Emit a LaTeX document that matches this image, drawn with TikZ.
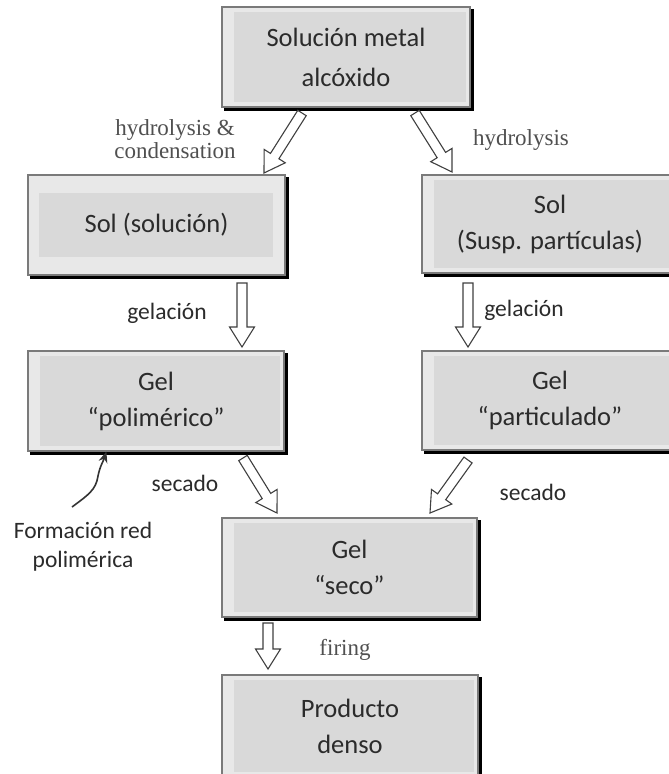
\documentclass[tikz,border=0pt]{standalone}
\usepackage{fontspec}
\setmainfont{Carlito}
\newfontfamily\printfont{Liberation Serif}
\usetikzlibrary{calc, arrows.meta}

\definecolor{boxband}{HTML}{E8E8E8}
\definecolor{boxfill}{HTML}{D9D9D9}
\definecolor{boxedge}{HTML}{7A7A7A}
\definecolor{inkgray}{HTML}{2B2B2B}
\definecolor{printgray}{HTML}{505050}

\tikzset{
  procbox/.style={rectangle, draw=boxedge, line width=1.2pt, fill=boxband,
    minimum width=256pt, minimum height=100pt, inner sep=0pt, align=center,
    text=inkgray, font=\fontsize{26.5}{36}\selectfont,
    path picture={\fill[boxfill] ([shift={(12pt,-5pt)}]path picture bounding box.north west)
      rectangle ([shift={(-4pt,5pt)}]path picture bounding box.south east);}},
  solbox/.style={path picture={\fill[boxfill] ([shift={(11pt,-18pt)}]path picture bounding box.north west)
      rectangle ([shift={(-12pt,18pt)}]path picture bounding box.south east);}},
  shadowline/.style={line width=2.6pt, black},
  hollow/.style={draw=black!75, line width=1.1pt, fill=white, line join=miter},
  lbl/.style={text=inkgray, font=\fontsize{23.5}{29}\selectfont, inner sep=0pt},
  printlbl/.style={text=printgray, font=\printfont\fontsize{23}{23}\selectfont, inner sep=0pt, align=center},
  curly/.style={line width=1.6pt, black!80, -{Stealth[length=11pt,width=9pt]}}
}

% block arrow with an open outline, from #1 to #2
\newcommand{\hollowarrow}[2]{%
  \coordinate (hb) at ($(#2)!20pt!(#1)$);
  \draw[hollow] ($(#1)!5pt!90:(#2)$) -- ($(hb)!5pt!90:(#2)$) -- ($(hb)!12.5pt!90:(#2)$) -- (#2)
    -- ($(hb)!12.5pt!-90:(#2)$) -- ($(hb)!5pt!-90:(#2)$) -- ($(#1)!5pt!-90:(#2)$) -- cycle;}

\begin{document}
\begin{tikzpicture}[x=1pt, y=-1pt]
  \useasboundingbox (0,0) rectangle (669,774);
  \fill[white] (0,0) rectangle (669,774);

  % process boxes
  \node[procbox, minimum width=248pt, font=\fontsize{26.5}{40}\selectfont] (metal) at (346,57) {Solución metal\\alcóxido};
  \node[procbox, solbox, minimum width=257pt] (soll) at (156.5,225) {Sol (solución)};
  \node[procbox, minimum height=98pt] (solr) at (550,224) {Sol\\(Susp. partículas)};
  \node[procbox] (gell) at (156,401) {Gel\\“polimérico”};
  \node[procbox, minimum height=99pt] (gelr) at (550,400.5) {Gel\\“particulado”};
  \node[procbox, minimum width=255pt, minimum height=99pt] (seco) at (349.5,567.5) {Gel\\“seco”};
  \node[procbox, minimum height=102pt] (prod) at (350,726) {Producto\\denso};

  % dark edge below and right of each box
  \foreach \b in {metal,soll,solr,gell,gelr,seco,prod}
    \draw[shadowline] ([shift={(3pt,-1.9pt)}]\b.south west) -- ([shift={(1.9pt,-1.9pt)}]\b.south east)
      -- ([shift={(1.9pt,-3pt)}]\b.north east);

  % arrow ends
  \coordinate (hydl) at (302,113);  \coordinate (hydlend) at (264,173);
  \coordinate (hydr) at (415,113);  \coordinate (hydrend) at (452,172);
  \coordinate (gelal) at (242,283); \coordinate (gelalend) at (242,347);
  \coordinate (gelar) at (468,283); \coordinate (gelarend) at (468,347);
  \coordinate (secl) at (243,458);  \coordinate (seclend) at (277,513);
  \coordinate (secr) at (468,460);  \coordinate (secrend) at (430,513);
  \coordinate (fire) at (268,623);  \coordinate (fireend) at (268,669);

  \hollowarrow{hydl}{hydlend}
  \hollowarrow{hydr}{hydrend}
  \hollowarrow{gelal}{gelalend}
  \hollowarrow{gelar}{gelarend}
  \hollowarrow{secl}{seclend}
  \hollowarrow{secr}{secrend}
  \hollowarrow{fire}{fireend}

  % step labels
  \node[printlbl] (hydcond) at (175,139) {hydrolysis \&\\condensation};
  \node[printlbl] (hydonly) at (521,140) {hydrolysis};
  \node[lbl] (gelacl) at (167,313) {gelación};
  \node[lbl] (gelacr) at (524,310) {gelación};
  \node[lbl] (secadol) at (185,483) {secado};
  \node[lbl] (secador) at (533,492) {secado};
  \node[printlbl] (firing) at (345,650) {firing};

  % note with curved pointer
  \node[lbl, align=center] (redpol) at (83,547) {Formación red\\polimérica};
  \coordinate (curvetail) at (72,507);
  \draw[curly] (curvetail) .. controls (88,495) and (96,490) .. (98,476)
    .. controls (100,466) and (103,462) .. ([xshift=79pt]gell.south west);
\end{tikzpicture}
\end{document}
